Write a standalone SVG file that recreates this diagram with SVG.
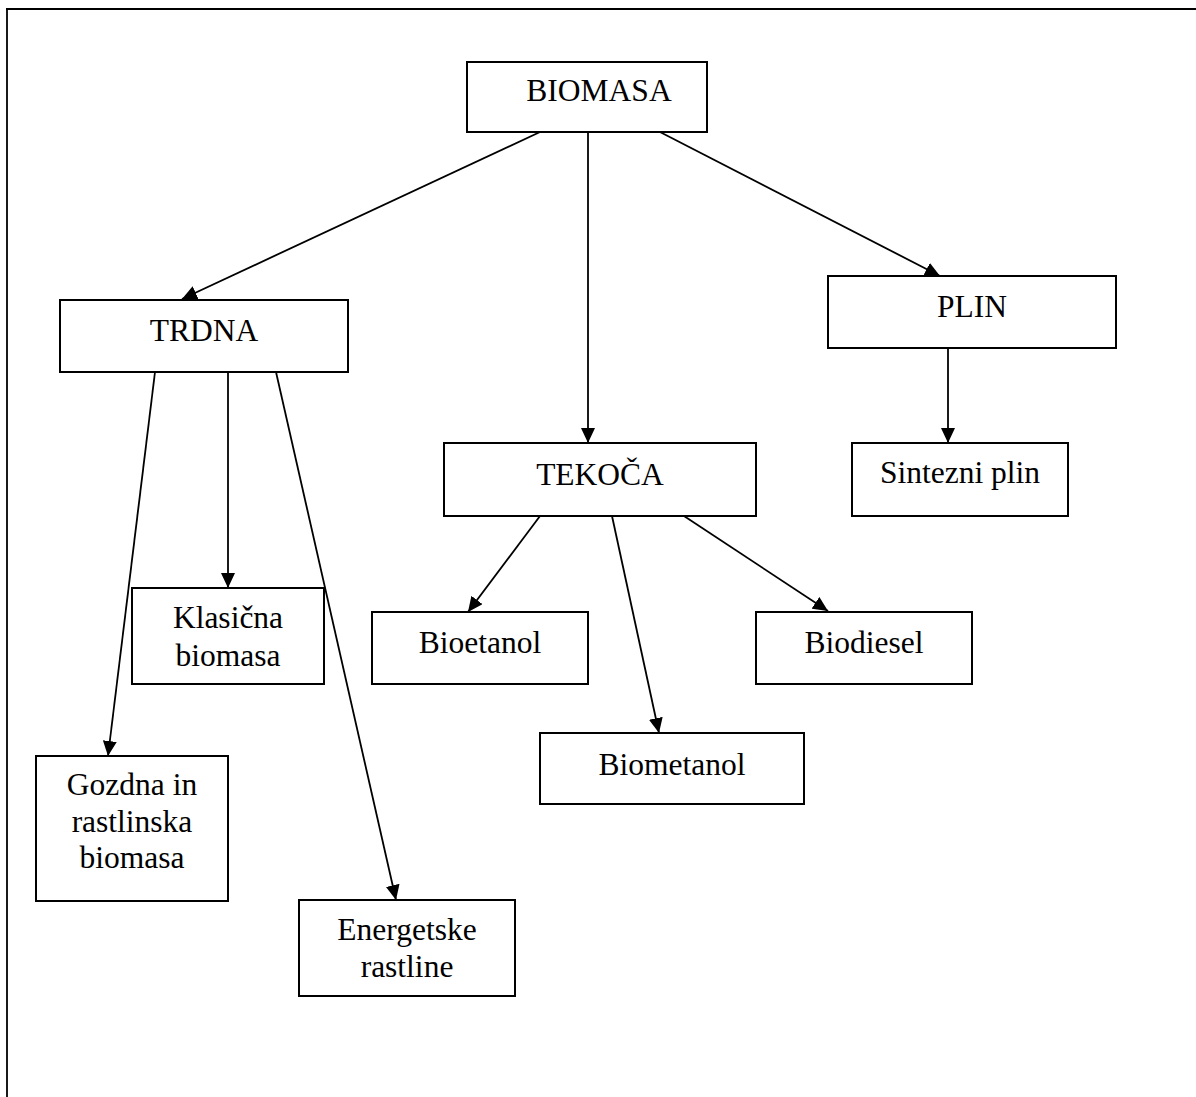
<svg xmlns="http://www.w3.org/2000/svg" width="1196" height="1097" viewBox="0 0 1196 1097">
<defs>
<style>
.box{fill:#fff;stroke:#000;stroke-width:2}
.t{font-family:"Liberation Serif","Times New Roman",serif;font-size:31.5px;fill:#000;text-anchor:middle}
.c{stroke:#000;stroke-width:1.8;fill:none;marker-end:url(#ah)}
</style>
<marker id="ah" markerUnits="userSpaceOnUse" markerWidth="15" markerHeight="14" refX="15" refY="7" orient="auto" viewBox="0 0 15 14">
<path d="M0,0 L15,7 L0,14 z" fill="#000"/>
</marker>
</defs>
<rect width="1196" height="1097" fill="#fff"/>
<g id="frame" stroke="#000" fill="none">
<line x1="6" y1="9" x2="1196" y2="9" stroke-width="2.2"/>
<line x1="7" y1="8" x2="7" y2="1097" stroke-width="1.8"/>
</g>
<g id="connectors">
<line class="c" x1="540" y1="132" x2="182" y2="299"/>
<line class="c" x1="588" y1="132" x2="588" y2="443"/>
<line class="c" x1="660" y1="132" x2="940" y2="276"/>
<line class="c" x1="948" y1="348" x2="948" y2="443"/>
<line class="c" x1="155" y1="372" x2="108" y2="756"/>
<line class="c" x1="228" y1="372" x2="228" y2="588"/>
<line class="c" x1="276" y1="372" x2="396" y2="900"/>
<line class="c" x1="540" y1="516" x2="468" y2="612"/>
<line class="c" x1="612" y1="516" x2="659" y2="733"/>
<line class="c" x1="684" y1="516" x2="828" y2="611"/>
</g>
<g id="biomasa"><rect class="box" x="467" y="62" width="240" height="70"/><text class="t" x="599" y="101">BIOMASA</text></g>
<g id="trdna"><rect class="box" x="60" y="300" width="288" height="72"/><text class="t" x="204" y="341">TRDNA</text></g>
<g id="plin"><rect class="box" x="828" y="276" width="288" height="72"/><text class="t" x="972" y="317">PLIN</text></g>
<g id="tekoca"><rect class="box" x="444" y="443" width="312" height="73"/><text class="t" x="600" y="485">TEKOČA</text></g>
<g id="sintezni"><rect class="box" x="852" y="443" width="216" height="73"/><text class="t" x="960" y="483">Sintezni plin</text></g>
<g id="klasicna"><rect class="box" x="132" y="588" width="192" height="96"/><text class="t" x="228" y="628">Klasična</text><text class="t" x="228" y="666">biomasa</text></g>
<g id="bioetanol"><rect class="box" x="372" y="612" width="216" height="72"/><text class="t" x="480" y="653">Bioetanol</text></g>
<g id="biodiesel"><rect class="box" x="756" y="612" width="216" height="72"/><text class="t" x="864" y="653">Biodiesel</text></g>
<g id="biometanol"><rect class="box" x="540" y="733" width="264" height="71"/><text class="t" x="672" y="775">Biometanol</text></g>
<g id="gozdna"><rect class="box" x="36" y="756" width="192" height="145"/><text class="t" x="132" y="795">Gozdna in</text><text class="t" x="132" y="832">rastlinska</text><text class="t" x="132" y="868">biomasa</text></g>
<g id="energetske"><rect class="box" x="299" y="900" width="216" height="96"/><text class="t" x="407" y="940">Energetske</text><text class="t" x="407" y="977">rastline</text></g>
</svg>
